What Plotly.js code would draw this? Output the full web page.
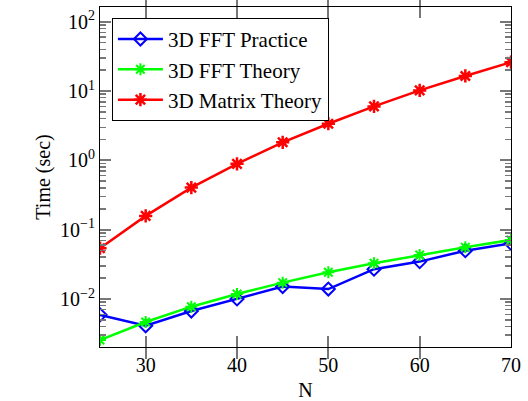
<!DOCTYPE html>
<html>
<head>
<meta charset="utf-8">
<script src="https://cdn.plot.ly/plotly-3.0.1.min.js"></script>
<style>html,body{margin:0;padding:0;background:#fff}#chart{width:528px;height:401px}</style>
</head>
<body>
<div id="chart"></div>
<script>
const N = [25, 30, 35, 40, 45, 50, 55, 60, 65, 70];
const fftPractice = [0.0059, 0.0041, 0.0067, 0.0100, 0.0151, 0.0139, 0.0269, 0.0346, 0.0497, 0.0635];
const fftTheory = [0.00256, 0.00465, 0.00774, 0.0118, 0.0172, 0.0243, 0.0327, 0.0431, 0.0557, 0.071];
const matrixTheory = [0.054, 0.158, 0.404, 0.89, 1.82, 3.37, 6.0, 10.2, 16.5, 26.1];
const xTicks = [30, 40, 50, 60, 70];
const yTickVals = [0.01, 0.1, 1, 10, 100];
const yTickText = ['10<sup>\u22122</sup>', '10<sup>\u22121</sup>', '10<sup>0</sup>', '10<sup>1</sup>', '10<sup>2</sup>'];
const yMinorVals = [];
[0.001, 0.01, 0.1, 1, 10, 100].forEach(d => { for (let k = 2; k <= 9; k++) yMinorVals.push(d * k); });
const seriesNames = ['3D FFT Practice', '3D FFT Theory', '3D Matrix Theory'];

const font = {family: '"Liberation Serif", serif', size: 20, color: '#000'};
const legendFont = {family: '"Liberation Serif", serif', size: 21, color: '#000'};
const yRange = [-2.693, 2.212];
const tickColor = '#777777';

const traces = [
  {x: N, y: fftPractice, name: seriesNames[0], mode: 'lines+markers',
   line: {color: '#0000ff', width: 2.5},
   marker: {symbol: 'diamond-open', size: 10, color: '#0000ff', line: {width: 2, color: '#0000ff'}}},
  {x: N, y: fftTheory, name: seriesNames[1], mode: 'lines+markers',
   line: {color: '#00ff00', width: 2.5},
   marker: {symbol: 'asterisk-open', size: 10, color: '#00ff00', line: {width: 2, color: '#00ff00'}}},
  {x: N, y: matrixTheory, name: seriesNames[2], mode: 'lines+markers',
   line: {color: '#ff0000', width: 2.5},
   marker: {symbol: 'asterisk-open', size: 11, color: '#ff0000', line: {width: 2.5, color: '#ff0000'}}},
  {x: [null], y: [null], yaxis: 'y2', showlegend: false, hoverinfo: 'skip', mode: 'lines'}
];

const layout = {
  width: 528, height: 401,
  margin: {l: 100, r: 17, t: 7, b: 54},
  font: font,
  showlegend: true,
  legend: {x: 0.029, y: 0.968, xanchor: 'left', yanchor: 'top',
    bgcolor: '#fff', bordercolor: '#000', borderwidth: 1,
    font: legendFont, tracegroupgap: 0, itemwidth: 45},
  xaxis: {
    range: [25, 70], tickvals: xTicks,
    showgrid: false,
    showline: true, linecolor: '#000', mirror: 'allticks',
    ticks: 'inside', ticklen: 11, tickcolor: tickColor, tickwidth: 2,
    title: {text: 'N', font: font}
  },
  yaxis: {
    type: 'log', range: yRange, tickvals: yTickVals, ticktext: yTickText,
    showgrid: false,
    showline: true, linecolor: '#000', mirror: 'allticks',
    ticks: 'inside', ticklen: 11, tickcolor: tickColor, tickwidth: 2,
    title: {text: 'Time (sec)', font: font}
  },
  yaxis2: {
    type: 'log', range: yRange, overlaying: 'y', side: 'left',
    tickvals: yMinorVals, showticklabels: false,
    showgrid: false, showline: false, mirror: 'allticks',
    ticks: 'inside', ticklen: 6, tickcolor: tickColor, tickwidth: 1.5
  }
};

Plotly.newPlot('chart', traces, layout, {staticPlot: true});
</script>
</body>
</html>
